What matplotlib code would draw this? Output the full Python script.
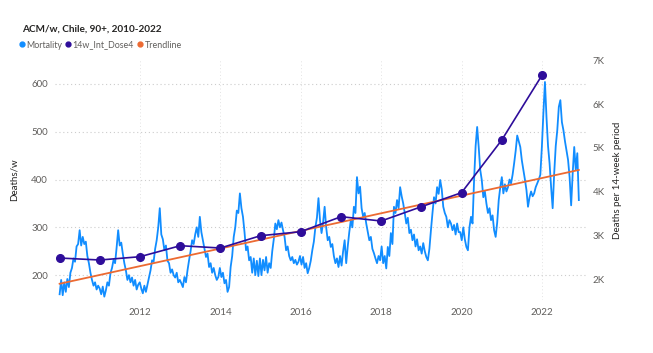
import numpy as np
import pandas as pd
import matplotlib
matplotlib.use("Agg")
import matplotlib.pyplot as plt
import matplotlib.dates as mdates
from matplotlib.lines import Line2D

plt.rcParams['font.family'] = ['Lato', 'DejaVu Sans']

# weekly mortality at ~2-week steps, one row per year
mortality = [
    160, 190, 158, 185, 165, 192, 175, 205, 215, 235, 228, 260, 265, 294, 262, 280, 265, 270, 240, 225, 205, 190, 178, 185, 170, 178,  # 2010
    172, 160, 176, 155, 168, 185, 178, 204, 215, 232, 225, 258, 294, 262, 268, 245, 225, 210, 190, 200, 185, 195, 178, 190, 170, 180,  # 2011
    185, 172, 162, 178, 165, 180, 196, 210, 231, 228, 255, 273, 300, 340, 285, 275, 252, 262, 230, 225, 205, 212, 200, 195, 205, 185,  # 2012
    190, 183, 175, 196, 185, 210, 231, 250, 273, 265, 285, 300, 280, 322, 290, 273, 255, 238, 245, 217, 225, 205, 215, 200, 190, 196,  # 2013
    215, 196, 205, 183, 190, 165, 175, 217, 240, 280, 300, 335, 330, 371, 340, 322, 290, 252, 260, 231, 238, 205, 235, 200, 230, 198,  # 2014
    235, 200, 232, 210, 238, 205, 225, 215, 250, 275, 308, 296, 315, 300, 310, 294, 280, 252, 260, 240, 231, 238, 225, 232, 222, 228,  # 2015
    240, 222, 238, 215, 225, 204, 215, 230, 252, 270, 300, 320, 361, 315, 288, 310, 343, 300, 273, 280, 259, 265, 240, 225, 235, 217,  # 2016
    240, 220, 250, 273, 225, 260, 290, 315, 300, 343, 330, 405, 371, 385, 340, 322, 330, 308, 290, 273, 280, 255, 246, 235, 225, 240,  # 2017
    231, 260, 225, 240, 214, 259, 240, 288, 265, 343, 330, 357, 340, 384, 365, 350, 330, 308, 320, 288, 295, 273, 285, 260, 275, 252,  # 2018
    260, 245, 267, 250, 238, 231, 255, 294, 330, 363, 350, 384, 370, 399, 380, 343, 330, 322, 300, 315, 308, 294, 305, 285, 308, 290,  # 2019
    290, 273, 300, 275, 259, 252, 300, 322, 308, 399, 470, 510, 468, 420, 399, 363, 375, 350, 330, 340, 315, 325, 294, 280, 310, 357,  # 2020
    384, 405, 371, 390, 375, 384, 400, 392, 410, 434, 460, 492, 480, 468, 440, 420, 400, 378, 343, 363, 375, 365, 371, 384, 392, 400,  # 2021
    410, 468, 540, 604, 530, 470, 434, 384, 340, 413, 470, 503, 552, 566, 520, 503, 480, 461, 441, 405, 346, 413, 468, 420, 455, 357,  # 2022
]

dose_years = list(range(2010, 2023))
dose4 = [2480, 2435, 2510, 2762, 2709, 2991, 3082, 3426, 3327, 3654, 3975, 5181, 6661]

trend_start = 182
trend_end = 420

x_ticks = ['2012', '2014', '2016', '2018', '2020', '2022']

blue = '#118DFF'
indigo = '#2E0D9A'
orange = '#EC6A32'
grey = '#605E5C'

dates = pd.date_range('2010-01-01', periods=len(mortality), freq='14D')
dose_dates = pd.to_datetime([f'{y}-01-01' for y in dose_years])

fig = plt.figure(figsize=(6.53, 3.53), dpi=100)
ax = fig.add_axes([55 / 653, 53 / 353, 531 / 653, 240 / 353])
ax2 = ax.twinx()

ax.plot(dates, mortality, color=blue, lw=1.3, zorder=2)
ax.plot([dates[0], dates[-1]], [trend_start, trend_end], color=orange, lw=1.3, zorder=3)
ax2.plot(dose_dates, dose4, color=indigo, lw=1.2, marker='o', ms=5.5, zorder=4)

ax.set_xlim(mdates.datestr2num('2009-11-20'), mdates.datestr2num('2023-02-05'))
ax.set_ylim(148, 650)
ax2.set_ylim(1520, 7010)

ax.set_yticks([200, 300, 400, 500, 600])
ax2.set_yticks([2000, 3000, 4000, 5000, 6000, 7000])
ax2.set_yticklabels(['2K', '3K', '4K', '5K', '6K', '7K'])
ax.set_xticks(mdates.datestr2num([t + '-01-01' for t in x_ticks]))
ax.set_xticklabels(x_ticks)

ax.grid(True, axis='y', color='#CCCCCC', ls=(0, (1, 2.5)), lw=0.8)
ax.grid(True, axis='x', color='#E3E3E3', ls=(0, (1, 2.5)), lw=0.7)
for a in (ax, ax2):
    for s in a.spines.values():
        s.set_visible(False)
    a.tick_params(length=0, labelsize=7, colors=grey)
ax.tick_params(axis='y', pad=5)
ax.tick_params(axis='x', pad=6)
ax2.tick_params(axis='y', pad=5)

ax.set_ylabel('Deaths/w', fontsize=7, color='#252423', labelpad=9)
ax2.set_ylabel('Deaths per 14-week period', fontsize=7, color='#252423', labelpad=6)

fig.text(22 / 653, 1 - 29 / 353, 'ACM/w, Chile, 90+, 2010-2022', fontsize=7.2,
         fontweight='bold', color='#252423', va='center')

handles = [Line2D([], [], ls='', marker='o', ms=3.5, color=c) for c in (blue, indigo, orange)]
fig.legend(handles, ['Mortality', '14w_Int_Dose4', 'Trendline'], ncol=3, loc='center left',
           bbox_to_anchor=(20 / 653, 1 - 45 / 353), frameon=False, fontsize=6.4,
           labelcolor=grey, handlelength=0.4, handletextpad=0.25, columnspacing=0.55,
           borderpad=0, borderaxespad=0)

fig.savefig('out.png', dpi=100)
